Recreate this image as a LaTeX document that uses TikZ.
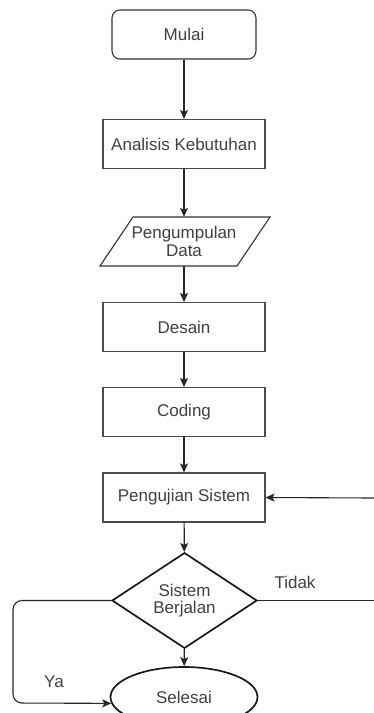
\documentclass[tikz,border=0pt]{standalone}
\usepackage{fontspec}
\setmainfont{Liberation Sans}
\usetikzlibrary{shapes.geometric,arrows.meta}
\begin{document}
\begin{tikzpicture}[x=1pt,y=-1pt,
  every node/.style={font=\fontsize{17}{17.5}\selectfont, text=black!75},
  procbox/.style={draw=black!70, line width=1.1pt, minimum width=162pt, minimum height=49pt, inner sep=0pt},
  termbox/.style={draw=black!80, line width=1.1pt, rounded corners=8pt, minimum width=144pt, minimum height=49pt, inner sep=0pt},
  flow/.style={draw=black!85, line width=1.2pt, -{Stealth[length=9pt,width=8pt,inset=2pt]}},
  plain/.style={draw=black!85, line width=1.1pt}
]
\useasboundingbox (0,0) rectangle (374,713);
\node[termbox] (mulai) at (184,34.5) {Mulai};
\node[procbox] (analisis) at (184,144) {Analisis Kebutuhan};
\node[minimum width=137pt, minimum height=49pt, inner sep=0pt, align=center] (data) at (184,241.5) {Pengumpulan\\Data};
\draw[draw=black!80, line width=1.1pt] (133,217) -- (270,217) -- (237,266) -- (100,266) -- cycle;
\node[procbox] (desain) at (184,327) {Desain};
\node[procbox] (coding) at (184,412) {Coding};
\node[procbox] (uji) at (184,497.5) {Pengujian Sistem};
\node[diamond, draw=black!90, line width=1.7pt, minimum width=145pt, minimum height=85pt, inner sep=0pt, align=center] (dia) at (184.5,600.5) {Sistem\\Berjalan};
\node[ellipse, draw=black!90, line width=1.7pt, minimum width=147pt, minimum height=60pt, inner sep=0pt] (sel) at (184,697) {Selesai};
\coordinate (rin) at (374,498);
\coordinate (rout) at (374,600.5);
\coordinate (lc1) at (13,600.5);
\coordinate (lc2) at (13,703);

\draw[flow] (mulai) -- (analisis);
\draw[flow] (analisis) -- (data.north);
\draw[flow] (data.south) -- (desain);
\draw[flow] (desain) -- (coding);
\draw[flow] (coding) -- (uji);
\draw[flow] (uji) -- (dia);
\draw[flow] (dia) -- (sel);
\draw[flow, line width=1.1pt] (rin) -- (uji.east);
\draw[plain] (dia.east) -- (rout);
\draw[flow, line width=1.1pt, rounded corners=9pt] (dia.west) -- (lc1) -- (lc2) -- (sel.185);
\node (ya) at (54,682) {Ya};
\node (tidak) at (295,582) {Tidak};
\end{tikzpicture}
\end{document}
